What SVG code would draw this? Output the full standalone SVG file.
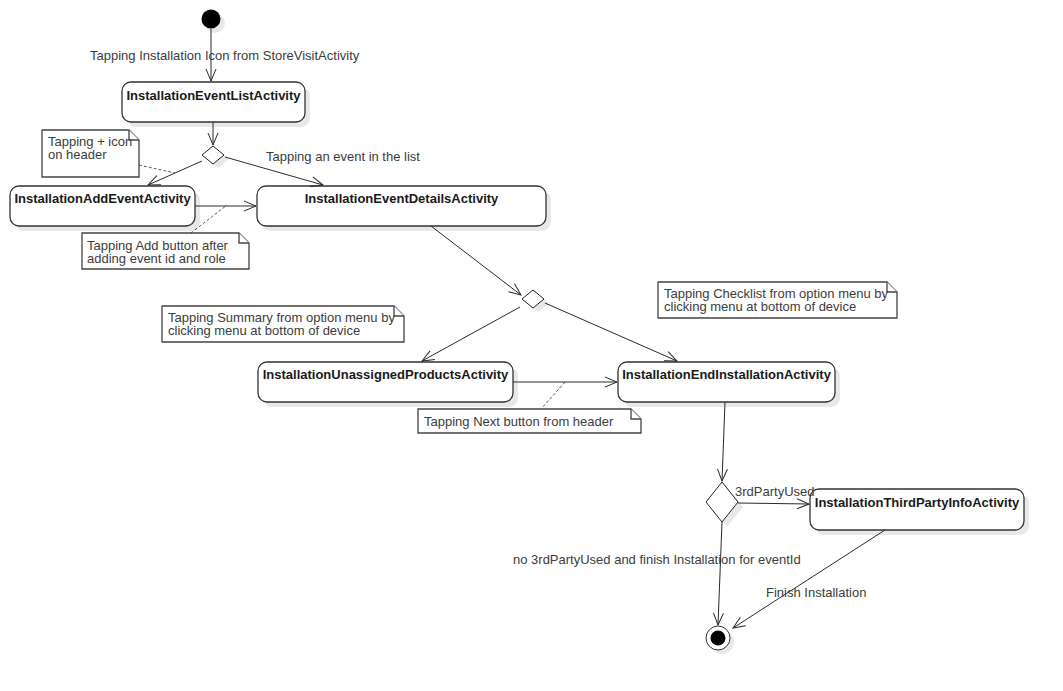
<svg xmlns="http://www.w3.org/2000/svg" width="1063" height="691" viewBox="0 0 1063 691">
<style>
.bg{fill:#fff}
.box{fill:#fff;stroke:#333;stroke-width:1.3}
.shadow{fill:#000;opacity:0.09}
.name{font-family:"Liberation Sans",Arial,sans-serif;font-size:13px;font-weight:bold;fill:#1a1a1a;text-anchor:middle}
.lbl{font-family:"Liberation Sans",Arial,sans-serif;font-size:13px;fill:#3c3c3c}
.edge{fill:none;stroke:#2a2a2a;stroke-width:1}
.dash{fill:none;stroke:#333;stroke-width:0.8;stroke-dasharray:3,2}
.note{fill:#fff;stroke:#444;stroke-width:1.3}
.dia{fill:#fff;stroke:#222;stroke-width:1}
</style>
<defs>
<marker id="arr" markerUnits="userSpaceOnUse" markerWidth="14" markerHeight="12" viewBox="0 0 14 12" refX="13" refY="6" orient="auto">
<path d="M1,1 L13,6 L1,11" fill="none" stroke="#2a2a2a" stroke-width="1"/>
</marker>
</defs>
<rect class="bg" x="0" y="0" width="1063" height="691"/>

<g id="start">
<circle class="shadow" cx="215" cy="23" r="10"/>
<circle cx="211" cy="19" r="9.5" fill="#000"/>
</g>

<g id="n-eventlist">
<rect class="shadow" x="127" y="87" width="183" height="40" rx="9"/>
<rect class="box" x="122" y="82" width="183" height="40" rx="9"/>
<text class="name" x="213.5" y="100">InstallationEventListActivity</text>
</g>

<g id="d1">
<polygon class="shadow" points="207,159 218,150 229,159 218,168"/>
<polygon class="dia" points="202,155 213,146 224,155 213,164"/>
</g>

<g id="n-addevent">
<rect class="shadow" x="15" y="191" width="185" height="40" rx="9"/>
<rect class="box" x="10" y="186" width="185" height="40" rx="9"/>
<text class="name" x="102.5" y="203">InstallationAddEventActivity</text>
</g>

<g id="n-details">
<rect class="shadow" x="262" y="191" width="289" height="40" rx="9"/>
<rect class="box" x="257" y="186" width="289" height="40" rx="9"/>
<text class="name" x="401.5" y="203">InstallationEventDetailsActivity</text>
</g>

<g id="d2">
<polygon class="shadow" points="527,303 538,294 549,303 538,312"/>
<polygon class="dia" points="522,299 533,290 544,299 533,308"/>
</g>

<g id="n-unassigned">
<rect class="shadow" x="263" y="367" width="255" height="40" rx="9"/>
<rect class="box" x="258" y="362" width="255" height="40" rx="9"/>
<text class="name" x="385.5" y="379">InstallationUnassignedProductsActivity</text>
</g>

<g id="n-end">
<rect class="shadow" x="623" y="367" width="217" height="40" rx="9"/>
<rect class="box" x="618" y="362" width="217" height="40" rx="9"/>
<text class="name" x="726.5" y="379">InstallationEndInstallationActivity</text>
</g>

<g id="d3">
<polygon class="shadow" points="711,507 727,487 743,507 727,527"/>
<polygon class="dia" points="706,502 722,482 738,502 722,522"/>
</g>

<g id="n-thirdparty">
<rect class="shadow" x="815" y="494" width="214" height="41" rx="9"/>
<rect class="box" x="810" y="489" width="214" height="41" rx="9"/>
<text class="name" x="917" y="507">InstallationThirdPartyInfoActivity</text>
</g>

<g id="final">
<circle class="shadow" cx="722" cy="642" r="12"/>
<circle cx="718" cy="638" r="12" fill="#fff" stroke="#333" stroke-width="1"/>
<circle cx="718" cy="638" r="7.5" fill="#000"/>
</g>

<g id="note-plus">
<path class="note" d="M42,130 L129,130 L139,140 L139,177 L42,177 Z"/>
<path class="note" d="M129,130 L129,140 L139,140" fill="none"/>
<text class="lbl" x="48" y="146">Tapping + icon</text>
<text class="lbl" x="48" y="159">on header</text>
</g>

<g id="note-add">
<path class="note" d="M82,233 L239,233 L249,243 L249,269 L82,269 Z"/>
<path class="note" d="M239,233 L239,243 L249,243" fill="none"/>
<text class="lbl" x="87" y="250">Tapping Add button after</text>
<text class="lbl" x="87" y="263">adding event id and role</text>
</g>

<g id="note-summary">
<path class="note" d="M162,306 L394,306 L404,316 L404,342 L162,342 Z"/>
<path class="note" d="M394,306 L394,316 L404,316" fill="none"/>
<text class="lbl" x="168" y="322">Tapping Summary from option menu by</text>
<text class="lbl" x="168" y="335">clicking menu at bottom of device</text>
</g>

<g id="note-checklist">
<path class="note" d="M658,282 L887,282 L897,292 L897,318 L658,318 Z"/>
<path class="note" d="M887,282 L887,292 L897,292" fill="none"/>
<text class="lbl" x="664" y="298">Tapping Checklist from option menu by</text>
<text class="lbl" x="664" y="311">clicking menu at bottom of device</text>
</g>

<g id="note-next">
<path class="note" d="M418,409 L631,409 L641,419 L641,433 L418,433 Z"/>
<path class="note" d="M631,409 L631,419 L641,419" fill="none"/>
<text class="lbl" x="424" y="426">Tapping Next button from header</text>
</g>

<g id="connectors">
<line class="edge" x1="211" y1="29" x2="211" y2="81" marker-end="url(#arr)"/>
<text class="lbl" x="90" y="60">Tapping Installation Icon from StoreVisitActivity</text>
<line class="edge" x1="213" y1="122" x2="213" y2="145" marker-end="url(#arr)"/>
<line class="edge" x1="202" y1="161" x2="148" y2="185" marker-end="url(#arr)"/>
<line class="edge" x1="225" y1="157" x2="323" y2="185" marker-end="url(#arr)"/>
<text class="lbl" x="266" y="161">Tapping an event in the list</text>
<line class="edge" x1="195" y1="206" x2="256" y2="206" marker-end="url(#arr)"/>
<line class="edge" x1="431" y1="226" x2="521" y2="295" marker-end="url(#arr)"/>
<line class="edge" x1="520" y1="307" x2="422" y2="361" marker-end="url(#arr)"/>
<line class="edge" x1="545" y1="303" x2="677" y2="361" marker-end="url(#arr)"/>
<line class="edge" x1="513" y1="382" x2="617" y2="382" marker-end="url(#arr)"/>
<line class="edge" x1="725" y1="402" x2="722" y2="481" marker-end="url(#arr)"/>
<line class="edge" x1="738" y1="503" x2="809" y2="504" marker-end="url(#arr)"/>
<text class="lbl" x="735" y="496">3rdPartyUsed</text>
<line class="edge" x1="722" y1="522" x2="718" y2="625" marker-end="url(#arr)"/>
<text class="lbl" x="513" y="564">no 3rdPartyUsed and finish Installation for eventId</text>
<line class="edge" x1="885" y1="530" x2="733" y2="628" marker-end="url(#arr)"/>
<text class="lbl" x="766" y="597">Finish Installation</text>
<line class="dash" x1="139" y1="165" x2="175" y2="173"/>
<line class="dash" x1="191" y1="233" x2="227" y2="205"/>
<line class="dash" x1="565" y1="382" x2="542" y2="408"/>
</g>
</svg>
